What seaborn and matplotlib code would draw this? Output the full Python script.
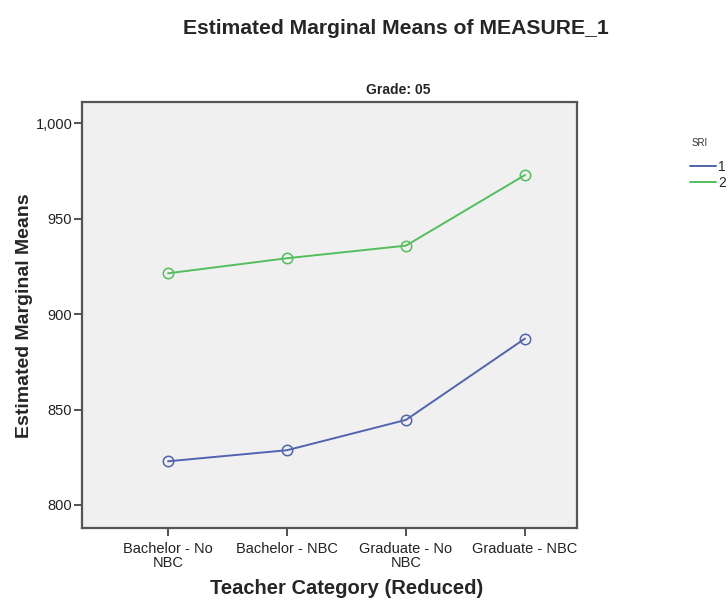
import matplotlib
matplotlib.use("Agg")
import matplotlib.pyplot as plt
import seaborn as sns
import pandas as pd
from matplotlib.lines import Line2D

categories = ["Bachelor - No\nNBC", "Bachelor - NBC", "Graduate - No\nNBC", "Graduate - NBC"]
sri_1 = [822.9, 828.7, 844.6, 887.2]
sri_2 = [921.4, 929.3, 935.9, 972.9]
y_ticks = [800, 850, 900, 950, 1000]
y_tick_labels = ["800", "850", "900", "950", "1,000"]

rows = []
for i, c in enumerate(categories):
    rows.append({"pos": i, "cat": c, "SRI": "1", "value": sri_1[i]})
    rows.append({"pos": i, "cat": c, "SRI": "2", "value": sri_2[i]})
df = pd.DataFrame(rows)

sns.set_style("white")
plt.rcParams["font.family"] = ["Liberation Sans", "DejaVu Sans"]

fig = plt.figure(figsize=(7.28, 6.04), dpi=100)
ax_l, ax_r, ax_t, ax_b = 82, 577, 102.5, 527.7
ax = fig.add_axes([ax_l / 728, 1 - ax_b / 604, (ax_r - ax_l) / 728, (ax_b - ax_t) / 604])
ax.set_facecolor("#f0f0f0")

palette = {"1": "#5064b0", "2": "#52bf5c"}
sns.lineplot(data=df, x="pos", y="value", hue="SRI", palette=palette,
             marker="o", markersize=7.5, linewidth=1.4, ax=ax, legend=False)
for ln in ax.lines:
    ln.set_markerfacecolor("none")
    ln.set_markeredgecolor(ln.get_color())
    ln.set_markeredgewidth(1.1)

ax.set_xlim(-0.723, 3.437)
ax.set_ylim(788.1, 1010.9)
ax.set_xticks(range(len(categories)))
ax.set_xticklabels(categories, fontsize=10.5, color="#222222", linespacing=1.0)
ax.set_yticks(y_ticks)
ax.set_yticklabels(y_tick_labels, fontsize=10.5, color="#222222")
ax.tick_params(axis="x", pad=4)
ax.tick_params(axis="both", direction="out", length=6, width=1.2, color="#333333",
               bottom=True, left=True)
ax.tick_params(axis="y", pad=1)
for s in ax.spines.values():
    s.set_color("#555555")
    s.set_linewidth(1.6)

ax.set_xlabel("Teacher Category (Reduced)", fontsize=14.5, fontweight="bold")
ax.set_ylabel("Estimated Marginal Means", fontsize=14, fontweight="bold")
ax.xaxis.label.set_va("center")
ax.yaxis.label.set_va("center")
ax.xaxis.set_label_coords((347 - ax_l) / (ax_r - ax_l), -(588 - ax_b) / (ax_b - ax_t))
ax.yaxis.set_label_coords((25 - ax_l) / (ax_r - ax_l), (ax_b - 316) / (ax_b - ax_t))

fig.text(398 / 728, 1 - 90 / 604, "Grade: 05", ha="center", va="center",
         fontsize=10, fontweight="bold")
fig.text(396 / 728, 1 - 28 / 604, "Estimated Marginal Means of MEASURE_1",
         ha="center", va="center", fontsize=15.2, fontweight="bold")

fig.text(692 / 728, 1 - 143 / 604, "SRI", ha="left", va="center", fontsize=7,
         color="#333333")
handles = [Line2D([], [], color=palette["1"], linewidth=1.4),
           Line2D([], [], color=palette["2"], linewidth=1.4)]
leg = fig.legend(handles, ["1", "2"], loc="upper left",
                 bbox_to_anchor=(690 / 728, 1 - 160 / 604), frameon=False,
                 borderaxespad=0, fontsize=10, handlelength=1.85,
                 handletextpad=0.15, labelspacing=0.15, borderpad=0)

fig.savefig("out.png", dpi=100)
